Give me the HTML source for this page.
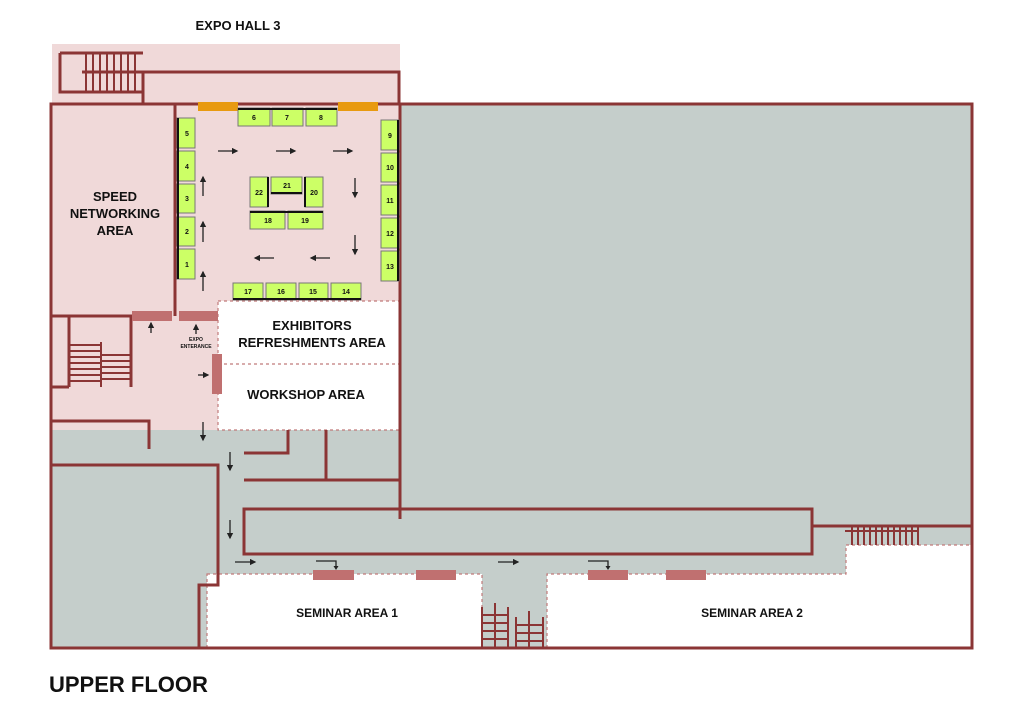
<!DOCTYPE html>
<html><head><meta charset="utf-8"><style>
body{margin:0;background:#fff}
svg{display:block}
text{font-family:"Liberation Sans",sans-serif;font-weight:bold;fill:#111}
</style></head><body>
<svg width="1024" height="710" viewBox="0 0 1024 710" xmlns="http://www.w3.org/2000/svg">
<defs>
<marker id="ah" markerWidth="5" markerHeight="5" refX="4" refY="2.5" orient="auto"><path d="M0,0 L5,2.5 L0,5 z" fill="#222"/></marker>
</defs>
<rect x="52" y="44" width="348" height="62" fill="#f0d9d9"/>
<rect x="51" y="104" width="921" height="544" fill="#c5cecb"/>
<rect x="51" y="104" width="349" height="326" fill="#f0d9d9"/>
<rect x="218" y="301" width="182" height="129" fill="#fff" stroke="#c07a7a" stroke-width="1.2" stroke-dasharray="3,3"/>
<line x1="218" y1="364" x2="400" y2="364" stroke="#c07a7a" stroke-width="1.2" stroke-dasharray="3,3"/>
<rect x="207" y="574" width="275" height="74" fill="#fff" stroke="#c07a7a" stroke-width="1.2" stroke-dasharray="3,3"/>
<path d="M547,648 L547,574 L846,574 L846,545 L972,545 L972,648 z" fill="#fff" stroke="#c07a7a" stroke-width="1.2" stroke-dasharray="3,3"/>
<g stroke="#8b3535" stroke-width="3" fill="none">
<path d="M60,53 L143,53 M60,53 L60,92 L143,92 M82,72 L399,72 L399,104 M143,72 L143,104"/>
<path d="M51,104 L972,104 L972,648 L51,648 Z"/>
<path d="M175,104 L175,316"/>
<path d="M400,104 L400,519"/>
<path d="M51,316 L132,316"/>
<path d="M69,316 L69,387 M131,316 L131,387 M51,387 L69,387"/>
<path d="M51,421 L149,421 L149,449"/>
<path d="M288,430 L288,453 L244,453"/>
<path d="M326,430 L326,480 M244,480 L400,480"/>
<path d="M51,465 L218,465 L218,585 L199,585 L199,648"/>
<rect x="244" y="509" width="568" height="45"/>
<path d="M812,526 L972,526"/>
</g>
<g stroke="#8b3535" stroke-width="2">
<path d="M86,53 V92 M93,53 V92 M100,53 V92 M107,53 V92 M114,53 V92 M121,53 V92 M128,53 V92 M135,53 V92"/>
<path d="M69,345 H101 M69,351 H101 M69,357 H101 M69,363 H101 M69,369 H101 M69,375 H101 M69,381 H101 M101,342 V387 M101,355 H131 M101,361 H131 M101,367 H131 M101,373 H131 M101,379 H131"/>
<path d="M482,607 V648 M508,607 V648 M482,615 H508 M482,623 H508 M482,631 H508 M482,639 H508 M516,617 V648 M543,617 V648 M516,625 H543 M516,633 H543 M516,641 H543 M529,611 V648 M495,603 V648"/>
<path d="M845,531 H918 M852,526 V545 M858,526 V545 M864,526 V545 M870,526 V545 M876,526 V545 M882,526 V545 M888,526 V545 M894,526 V545 M900,526 V545 M906,526 V545 M912,526 V545 M918,526 V545"/>
</g>
<rect x="198" y="102" width="40" height="9" fill="#e89a10"/>
<rect x="338" y="102" width="40" height="9" fill="#e89a10"/>
<g fill="#c07070">
<rect x="132" y="311" width="40" height="10"/><rect x="179" y="311" width="39" height="10"/>
<rect x="212" y="354" width="10" height="40"/>
<rect x="313" y="570" width="41" height="10"/><rect x="416" y="570" width="40" height="10"/>
<rect x="588" y="570" width="40" height="10"/><rect x="666" y="570" width="40" height="10"/>
</g>
<g fill="#ccff66" stroke="#777" stroke-width="1">
<rect x="238" y="108" width="32" height="18"/><rect x="272" y="108" width="31" height="18"/><rect x="306" y="108" width="31" height="18"/>
<rect x="177" y="118" width="18" height="30"/><rect x="177" y="151" width="18" height="30"/><rect x="177" y="184" width="18" height="29"/><rect x="177" y="217" width="18" height="29"/><rect x="177" y="249" width="18" height="30"/>
<rect x="381" y="120" width="18" height="30"/><rect x="381" y="153" width="18" height="29"/><rect x="381" y="185" width="18" height="30"/><rect x="381" y="218" width="18" height="30"/><rect x="381" y="251" width="18" height="30"/>
<rect x="233" y="283" width="30" height="17"/><rect x="266" y="283" width="30" height="17"/><rect x="299" y="283" width="29" height="17"/><rect x="331" y="283" width="30" height="17"/>
<rect x="250" y="177" width="18" height="30"/><rect x="271" y="177" width="31" height="17"/><rect x="305" y="177" width="18" height="30"/>
<rect x="250" y="211" width="35" height="18"/><rect x="288" y="211" width="35" height="18"/>
</g>
<g stroke="#111" stroke-width="2">
<path d="M238,109 H337 M178,118 V279 M398,120 V281 M233,299 H361 M268,177 V207 M305,177 V207 M271,193 H302 M250,212 H323"/>
</g>
<g font-size="7" text-anchor="middle">
<text x="254" y="120">6</text><text x="287" y="120">7</text><text x="321" y="120">8</text>
<text x="187" y="136">5</text><text x="187" y="169">4</text><text x="187" y="201">3</text><text x="187" y="234">2</text><text x="187" y="267">1</text>
<text x="390" y="138">9</text><text x="390" y="170">10</text><text x="390" y="203">11</text><text x="390" y="236">12</text><text x="390" y="269">13</text>
<text x="248" y="294">17</text><text x="281" y="294">16</text><text x="313" y="294">15</text><text x="346" y="294">14</text>
<text x="259" y="195">22</text><text x="287" y="188">21</text><text x="314" y="195">20</text>
<text x="268" y="223">18</text><text x="305" y="223">19</text>
</g>
<g stroke="#222" stroke-width="1.3" marker-end="url(#ah)">
<path d="M218,151 H237"/><path d="M276,151 H295"/><path d="M333,151 H352"/>
<path d="M355,178 V197"/><path d="M355,235 V254"/>
<path d="M274,258 H255"/><path d="M330,258 H311"/>
<path d="M203,196 V177"/><path d="M203,242 V222"/><path d="M203,291 V272"/>
<path d="M151,333 V323"/><path d="M196,334 V325"/>
<path d="M198,375 H208"/>
<path d="M203,422 V440"/><path d="M230,452 V470"/><path d="M230,520 V538"/>
<path d="M235,562 H255"/><path d="M498,562 H518"/>
</g>
<g stroke="#222" stroke-width="1.3" fill="none">
<path d="M316,561 H336 V567"/><path d="M588,561 H608 V567"/>
</g>
<g fill="#222">
<path d="M333.5,566 L338.5,566 L336,570 z"/><path d="M605.5,566 L610.5,566 L608,570 z"/>
</g>
<text x="238" y="30" font-size="13" text-anchor="middle">EXPO HALL 3</text>
<g font-size="13" text-anchor="middle">
<text x="115" y="201">SPEED</text><text x="115" y="218">NETWORKING</text><text x="115" y="235">AREA</text>
<text x="312" y="330">EXHIBITORS</text><text x="312" y="347">REFRESHMENTS AREA</text>
<text x="306" y="399">WORKSHOP AREA</text>
</g>
<g font-size="12" text-anchor="middle">
<text x="347" y="617">SEMINAR AREA 1</text><text x="752" y="617">SEMINAR AREA 2</text>
</g>
<g font-size="5" text-anchor="middle"><text x="196" y="341">EXPO</text><text x="196" y="348">ENTERANCE</text></g>
<text x="49" y="692" font-size="22">UPPER FLOOR</text>
</svg>
</body></html>
